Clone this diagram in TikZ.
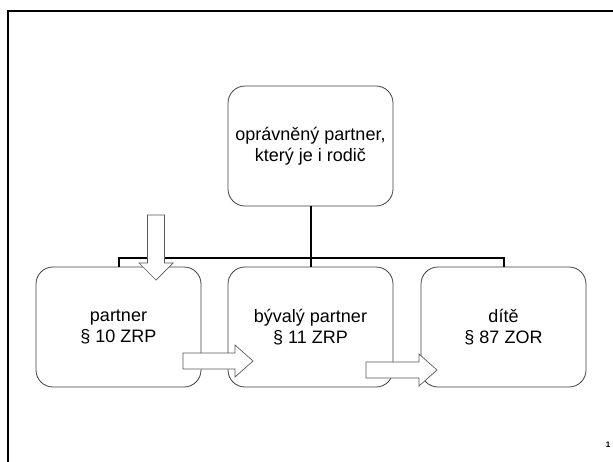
\documentclass[tikz,border=0pt]{standalone}
\usepackage{fontspec}
\setmainfont{Liberation Sans}
\begin{document}
\begin{tikzpicture}[x=1pt,y=-1pt,
  box/.style={draw=black!75, line width=0.8pt, rounded corners=17pt,
    minimum width=165pt, minimum height=120pt, align=center, inner sep=0pt,
    fill=white, font=\fontsize{18}{21}\selectfont},
  link/.style={line width=2pt, black},
  blockarrow/.style={draw=black!65, line width=0.7pt, fill=white},
  frame/.style={line width=2.2pt, black}]
\useasboundingbox (0,0) rectangle (613,461);
\draw[frame] (8,470) -- (8,11) -- (620,11);
\node[box] (top) at (310.5,146) {oprávněný partner,\\ který je i rodič};
\node[box] (b1) at (118.5,327) {partner\\ § 10 ZRP};
\node[box] (b2) at (310.5,327) {bývalý partner\\ § 11 ZRP};
\node[box] (b3) at (503.5,327) {dítě\\ § 87 ZOR};
\draw[link] (top.south) -- (b2.north);
\draw[link] (b1.north) -- ++(0,-9) -| (b3.north);
\draw[blockarrow] (147.5,215) -- (164.5,215) -- (164.5,263) -- (173,263) -- (156,280) -- (139,263) -- (147.5,263) -- cycle;
\draw[blockarrow] (183,353) -- (235,353) -- (235,345) -- (253,361) -- (235,377) -- (235,369) -- (183,369) -- cycle;
\draw[blockarrow] (366,362) -- (419,362) -- (419,354) -- (437,370) -- (419,386) -- (419,378) -- (366,378) -- cycle;
\node[font=\fontsize{8}{8}\selectfont\bfseries, inner sep=0pt] (pg) at (608,445) {1};
\end{tikzpicture}
\end{document}
